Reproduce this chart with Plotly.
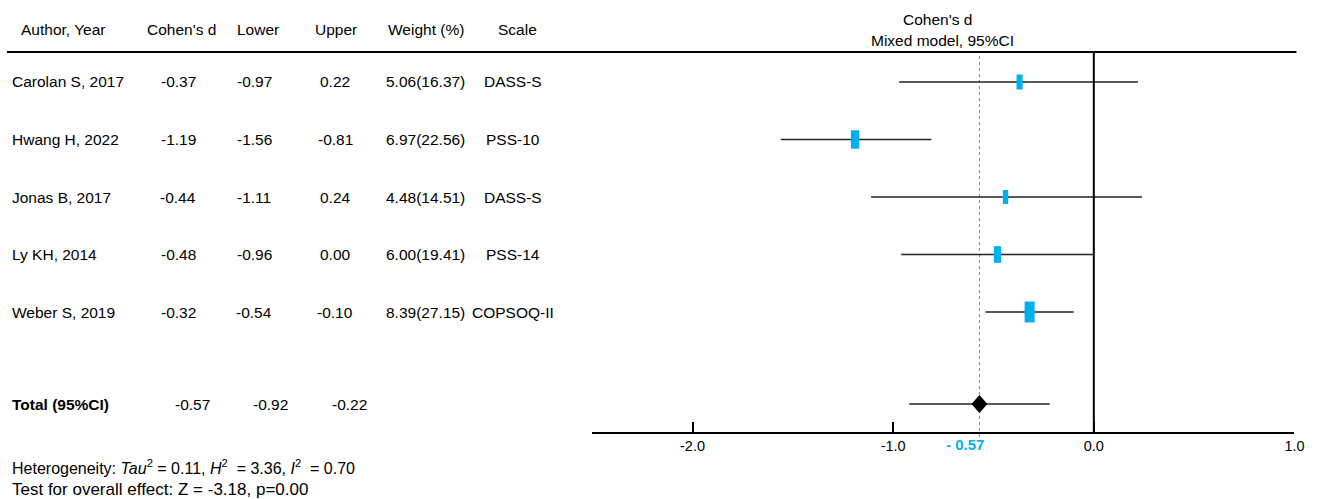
import plotly.graph_objects as go

# ---- data ----
authors = ["Carolan S, 2017", "Hwang H, 2022", "Jonas B, 2017", "Ly KH, 2014", "Weber S, 2019"]
cohens_d = [-0.37, -1.19, -0.44, -0.48, -0.32]
lower = [-0.97, -1.56, -1.11, -0.96, -0.54]
upper = [0.22, -0.81, 0.24, 0.00, -0.10]
weight = [5.06, 6.97, 4.48, 6.00, 8.39]
weight_pct = [16.37, 22.56, 14.51, 19.41, 27.15]
scales = ["DASS-S", "PSS-10", "DASS-S", "PSS-14", "COPSOQ-II"]
total_d, total_lo, total_hi = -0.57, -0.92, -0.22
headers = ["Author, Year", "Cohen's d", "Lower", "Upper", "Weight (%)", "Scale"]
tick_vals = [-2.5, -2.0, -1.0, 0.0, 1.0]
tick_text = ["", "-2.0", "-1.0", "0.0", "1.0"]
x_range = [-2.5, 1.0]

W, H = 1318, 499
K = 1.008  # horizontal compensation for capture scaling
FONT = "Liberation Sans, Arial, sans-serif"
BLUE = "#00b0f0"
FS = 15.5

AXIS_Y = 432
HEAD_Y = 52
row_y = [82 + i * 57.5 for i in range(len(authors))]
TOTAL_Y = 404

fig = go.Figure()


def px(x):
    return x * K / W


def py(y):
    return 1 - y / H


def ann(text, x, y, anchor="center", size=FS, color="black", bold=False):
    if bold:
        text = "<b>" + text + "</b>"
    fig.add_annotation(text=text, x=px(x), y=py(y), xref="paper", yref="paper",
                       xanchor=anchor, yanchor="middle", showarrow=False,
                       font=dict(family=FONT, size=size, color=color))


# header texts
hx = [63, 181, 258, 336, 426, 517]
for h, x in zip(headers, hx):
    ann(h, x, 30)
ann("Cohen's d", 937, 19)
ann("Mixed model, 95%CI", 942, 41)

# rows
for i, y in enumerate(row_y):
    ann(authors[i], 10, y, anchor="left")
    ann(f"{cohens_d[i]:.2f}", 178, y)
    ann(f"{lower[i]:.2f}", 254, y)
    ann(f"{upper[i]:.2f}", 335, y)
    ann(f"{weight[i]:.2f}({weight_pct[i]:.2f})", 425, y)
    ann(scales[i], 513, y)
    fig.add_trace(go.Scatter(x=[lower[i], upper[i]], y=[y, y], mode="lines",
                             line=dict(color="#222222", width=1.5), showlegend=False,
                             hoverinfo="skip"))
    w = 0.37 * weight_pct[i]
    h = 0.55 * weight_pct[i] + 6
    fig.add_shape(type="rect", xref="x", yref="y", xsizemode="pixel", ysizemode="pixel",
                  xanchor=cohens_d[i], yanchor=y, x0=-w / 2, x1=w / 2, y0=-h / 2, y1=h / 2,
                  fillcolor=BLUE, line=dict(width=0), layer="above")

# total row
ann("Total (95%CI)", 10, TOTAL_Y, anchor="left", bold=True)
ann(f"{total_d:.2f}", 192, TOTAL_Y)
ann(f"{total_lo:.2f}", 270, TOTAL_Y)
ann(f"{total_hi:.2f}", 349, TOTAL_Y)
fig.add_trace(go.Scatter(x=[total_lo, total_hi], y=[TOTAL_Y, TOTAL_Y], mode="lines",
                         line=dict(color="#222222", width=1.5), showlegend=False, hoverinfo="skip"))
fig.add_shape(type="path", xref="x", yref="y", xsizemode="pixel", ysizemode="pixel",
              xanchor=total_d, yanchor=TOTAL_Y,
              path="M -8 0 L 0 9 L 8 0 L 0 -9 Z", fillcolor="black", line=dict(width=0),
              layer="above")

# footer
ann("Heterogeneity: <i>Tau</i><sup>2</sup> = 0.11, <i>H</i><sup>2</sup>&nbsp; = 3.36, "
    "<i>I</i><sup>2</sup>&nbsp; = 0.70", 10, 467, anchor="left", size=16)
ann("Test for overall effect: Z = -3.18, p=0.00", 10, 489, anchor="left", size=17)

# lines
fig.add_shape(type="line", xref="paper", yref="y", x0=px(7), x1=px(1296), y0=HEAD_Y, y1=HEAD_Y,
              line=dict(color="black", width=2))
fig.add_shape(type="line", xref="x", yref="y", x0=0, x1=0, y0=HEAD_Y, y1=AXIS_Y,
              line=dict(color="black", width=2))
fig.add_shape(type="line", xref="x", yref="paper", x0=total_d, x1=total_d,
              y0=py(437), y1=py(HEAD_Y),
              line=dict(color="#29a9e0", width=1, dash="dot"), layer="below")
ann(f"- {abs(total_d):.2f}", 965, 444, size=15, color=BLUE, bold=True)

fig.update_layout(
    width=W, height=H, margin=dict(l=0, r=0, t=0, b=0),
    plot_bgcolor="white", paper_bgcolor="white", showlegend=False,
    xaxis=dict(domain=[px(592), px(1294)], range=x_range, showgrid=False, zeroline=False,
               showline=True, linecolor="black", linewidth=2, ticks="inside", ticklen=10,
               tickwidth=2, tickcolor="black", tickvals=tick_vals, ticktext=tick_text,
               tickfont=dict(family=FONT, size=14.5, color="black"), fixedrange=True),
    yaxis=dict(domain=[1 - AXIS_Y / H, 1], range=[AXIS_Y, 0], visible=False, fixedrange=True),
)

fig.write_html(
    "out.html",
    config={"displayModeBar": False},
    post_script=(
        "document.body.style.margin='0px';"
        "document.body.style.overflow='hidden';"
        "document.documentElement.style.overflow='hidden';"
    ),
)
